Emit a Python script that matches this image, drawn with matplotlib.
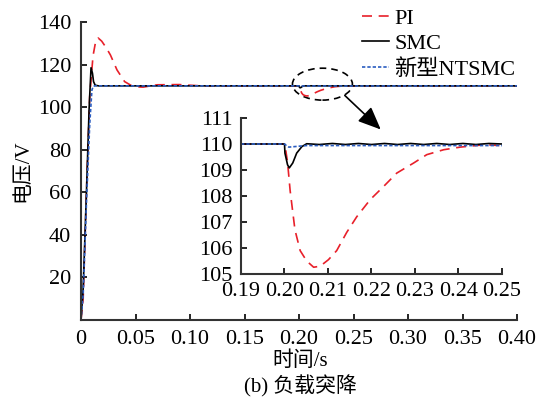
import numpy as np
import matplotlib
matplotlib.use("Agg")
import matplotlib.pyplot as plt
from matplotlib.patches import Ellipse

plt.rcParams['font.family'] = ['Liberation Serif', 'Noto Sans CJK SC']
plt.rcParams['font.size'] = 16
plt.rcParams['axes.unicode_minus'] = False

# start-up transient (t in s, voltage in V)
t_pi_start = [0, 0.002, 0.005, 0.008, 0.011, 0.0135, 0.0157, 0.019, 0.023, 0.027,
              0.033, 0.040, 0.048, 0.057, 0.070, 0.090, 0.11]
v_pi_start = [0, 10, 60, 105, 124, 131, 132.5, 131, 128, 124.5,
              117.5, 112, 109.6, 109.4, 110.5, 110.6, 110.0]
t_smc_start = [0, 0.002, 0.005, 0.0075, 0.0092, 0.0105, 0.0115, 0.013, 0.016]
v_smc_start = [0, 15, 60, 100, 118.5, 116, 112, 110.3, 110]
t_nt_start = [0, 0.002, 0.005, 0.008, 0.0100, 0.0112, 0.013]
v_nt_start = [0, 12, 55, 92, 108, 109.8, 110]

# load drop at t = 0.2 s
t_pi_drop = [0.19, 0.200, 0.2001, 0.2007, 0.2013, 0.2024, 0.2036, 0.2051, 0.2067, 0.2082,
             0.2101, 0.212, 0.2143, 0.2166, 0.2197, 0.2228, 0.2258, 0.2297, 0.2327,
             0.2366, 0.2404, 0.2458, 0.25]
v_pi_drop = [110, 110, 109.97, 109.3, 108.2, 106.7, 105.9, 105.5, 105.26, 105.3,
             105.55, 105.9, 106.6, 107.2, 107.86, 108.37, 108.88, 109.27, 109.59,
             109.78, 109.88, 109.97, 109.94]
t_smc_drop = [0.19, 0.200, 0.2001, 0.2007, 0.2011, 0.2019, 0.2028, 0.204, 0.2051,
              0.208, 0.211, 0.214, 0.217, 0.220, 0.223, 0.226, 0.229, 0.232,
              0.235, 0.238, 0.241, 0.244, 0.247, 0.25]
v_smc_drop = [110, 110, 109.65, 109.2, 109.08, 109.27, 109.65, 109.9, 110.01,
              109.98, 110.02, 109.98, 110.02, 109.98, 110.02, 109.98, 110.02, 109.98,
              110.02, 109.98, 110.02, 109.98, 110.02, 110.0]
t_nt_drop = [0.19, 0.200, 0.2005, 0.201, 0.203, 0.205, 0.25]
v_nt_drop = [110, 110, 109.93, 109.88, 109.91, 109.94, 109.94]

t_end = 0.40
v_ref = 110

pi_style = dict(color='#e8202a', ls=(0, (6, 4)), lw=1.2)
smc_style = dict(color='black', ls='-', lw=1.2)
nt_style = dict(color='#2a5cc0', ls=(0, (2, 1.2)), lw=1.2)

fig = plt.figure(figsize=(5.47, 4.05), dpi=100)
ax = fig.add_axes([81/547, 85/405, 436/547, 298/405])


def full(ts, vs, td, vd):
    return ts + td + [t_end], vs + vd + [v_ref]


t, v = full(t_pi_start, v_pi_start, t_pi_drop, v_pi_drop)
ax.plot(t, v, label='PI', **pi_style)
t, v = full(t_smc_start, v_smc_start, t_smc_drop, v_smc_drop)
ax.plot(t, v, label='SMC', **smc_style)
t, v = full(t_nt_start, v_nt_start, t_nt_drop, v_nt_drop)
ax.plot(t, v, label='新型NTSMC', **nt_style)

ax.set_xlim(0, 0.40)
ax.set_ylim(0, 140)
ax.set_xticks(np.arange(0, 0.401, 0.05))
ax.set_xticklabels(['0'] + ['%.2f' % x for x in np.arange(0.05, 0.401, 0.05)])
ax.set_yticks(np.arange(20, 141, 20))
for s in ['top', 'right']:
    ax.spines[s].set_visible(False)
for s in ['left', 'bottom']:
    ax.spines[s].set_linewidth(1.5)
    ax.spines[s].set_color('#333333')
ax.tick_params(direction='in', length=4, width=1.2, pad=7)
ax.set_ylabel('电压/V', labelpad=4, fontsize=15)

ax.legend(loc='upper left', bbox_to_anchor=(362/547, 1 - 8/405),
          bbox_transform=fig.transFigure, frameon=False, handlelength=1.2,
          handletextpad=0.25, labelspacing=0.22, borderpad=0, borderaxespad=0)

# ellipse + arrow
ax.add_patch(Ellipse((0.2215, 110.8), 0.055, 15, fill=False, ls=(0, (4, 3)),
                     lw=1.2, color='black', clip_on=False))
ax.annotate('', xy=(0.275, 89.5), xytext=(0.242, 105.5),
            arrowprops=dict(arrowstyle='-|>,head_length=0.7,head_width=0.3',
                            color='black', lw=1.2,
                            mutation_scale=20, shrinkA=0, shrinkB=0))

# inset
ins = fig.add_axes([241/547, 131/405, 261/547, 156/405])
ins.patch.set_visible(False)
ins.plot(t_pi_drop, v_pi_drop, **pi_style)
ins.plot(t_smc_drop, v_smc_drop, **smc_style)
ins.plot(t_nt_drop, v_nt_drop, **nt_style)
ins.set_xlim(0.19, 0.25)
ins.set_ylim(105, 111)
ins.set_xticks(np.arange(0.19, 0.2501, 0.01))
ins.set_xticklabels(['%.2f' % x for x in np.arange(0.19, 0.2501, 0.01)])
ins.set_yticks(np.arange(105, 112, 1))
for s in ['top', 'right']:
    ins.spines[s].set_visible(False)
for s in ['left', 'bottom']:
    ins.spines[s].set_linewidth(1.5)
    ins.spines[s].set_color('#333333')
ins.tick_params(direction='in', length=4, width=1.2, pad=6)

fig.text(300/547, 1 - 361/405, '时间/s', ha='center', va='center', fontsize=15)
fig.text(300/547, 1 - 386/405, '(b) 负载突降', ha='center', va='center', fontsize=15)

fig.savefig('out.png', dpi=100)
